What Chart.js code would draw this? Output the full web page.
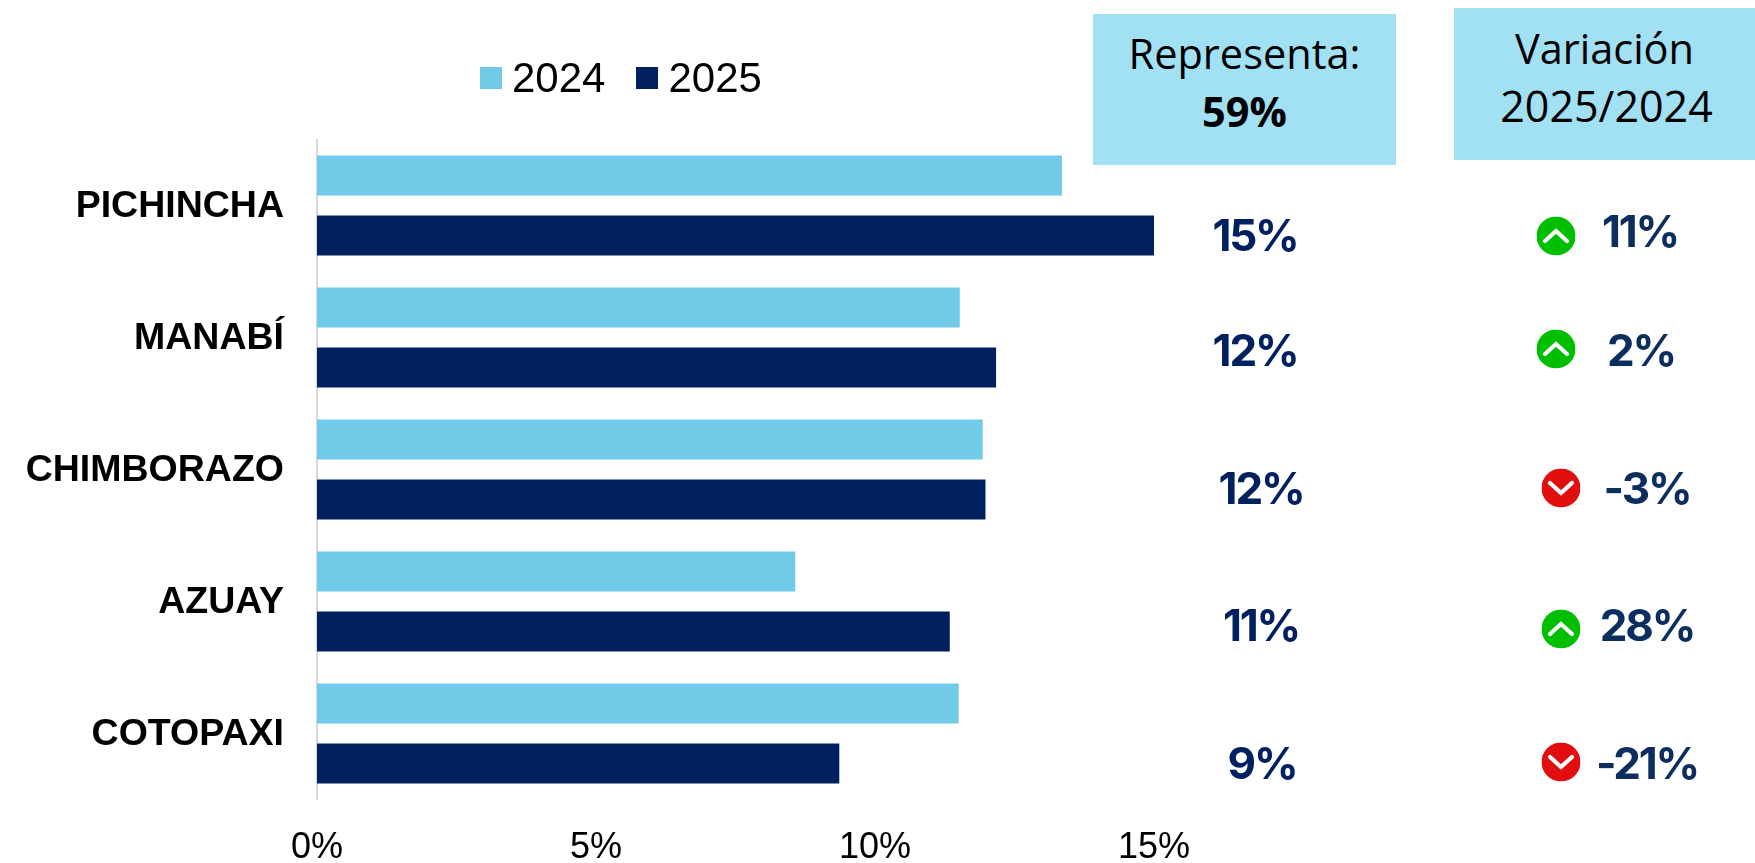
<!DOCTYPE html>
<html lang="es">

<head>
    <meta charset="UTF-8">
    <title>Provincias 2024 / 2025</title>
    <script src="https://cdn.jsdelivr.net/npm/chart.js"></script>
    <style>
        html,
        body {
            margin: 0;
            padding: 0;
            background: #fff;
            overflow: hidden;
        }

        #wrap {
            position: relative;
            width: 1755px;
            height: 863px;
        }

        #wrap canvas {
            position: absolute;
            left: 0;
            top: 0;
        }

        .legend {
            position: absolute;
            top: 52px;
            left: 480px;
            display: flex;
            align-items: center;
            height: 52px;
            font: 42px 'Liberation Sans', sans-serif;
            color: #000;
        }

        .legend i {
            display: block;
            width: 22px;
            height: 22px;
            margin-right: 10px;
        }

        .legend span {
            margin-right: 31px;
        }

        .box {
            position: absolute;
            background: #a2e0f4;
            text-align: center;
            font: 41.5px/58px 'Open Sans', sans-serif;
            color: #000;
        }

        .num {
            position: absolute;
            transform: translate(-50%, -50%);
            font: 700 44px 'Inter', sans-serif;
            letter-spacing: -2.2px;
            white-space: nowrap;
        }

        .share {
            color: #002060;
        }

        .vari {
            color: #0b2e5f;
        }

        .icon {
            position: absolute;
            width: 39px;
            height: 39px;
            transform: translate(-50%, -50%);
        }
    </style>
</head>

<body>
    <div id="wrap">
        <canvas id="grafico" width="1755" height="863"></canvas>
        <div class="legend" id="leyenda"></div>
        <div class="box" style="left:1093px;top:14px;width:303px;height:151px">
            <div style="margin-top:10px">Representa:</div>
            <div><b>59%</b></div>
        </div>
        <div class="box" style="left:1454px;top:8px;width:301px;height:152px">
            <div style="margin-top:11px">Variación</div>
            <div style="font-size:43px;margin-left:4px">2025/2024</div>
        </div>
    </div>
    <script>
        const provincias = ['PICHINCHA', 'MANABÍ', 'CHIMBORAZO', 'AZUAY', 'COTOPAXI'];
        const series2024 = [13.35, 11.52, 11.93, 8.57, 11.5];
        const series2025 = [15.04, 12.17, 11.98, 11.34, 9.36];
        const ticksX = [0, 5, 10, 15];
        const participacion = ['15%', '12%', '12%', '11%', '9%'];
        const variacion = ['11%', '2%', '-3%', '28%', '-21%'];
        const tendencia = ['up', 'up', 'down', 'up', 'down'];

        // the side columns are not evenly spaced in the original, so they are placed by hand
        const shareX = [1255, 1255, 1261, 1261, 1262];
        const shareY = [235, 350, 488, 625, 763];
        const variX = [1640, 1641, 1647, 1647, 1647];
        const variY = [231, 350, 488, 625, 763];
        const iconX = [1556, 1556, 1561, 1561, 1561];
        const iconY = [236, 349, 488, 629, 762];

        const chart = new Chart(document.getElementById('grafico'), {
            type: 'bar',
            data: {
                labels: provincias,
                datasets: [
                    { label: '2024', data: series2024, backgroundColor: '#71cae7' },
                    { label: '2025', data: series2025, backgroundColor: '#002060' }
                ]
            },
            options: {
                indexAxis: 'y',
                responsive: false,
                animation: false,
                categoryPercentage: 0.909,
                barPercentage: 0.667,
                layout: { padding: { top: 139.5, right: 601, left: 0, bottom: 0 } },
                plugins: { legend: { display: false }, tooltip: { enabled: false } },
                scales: {
                    x: {
                        min: 0,
                        max: 15,
                        afterFit: (scale) => { scale.height = 63.5; },
                        afterBuildTicks: (scale) => { scale.ticks = ticksX.map((v) => ({ value: v })); },
                        grid: { display: false },
                        border: { display: false },
                        ticks: {
                            color: '#000',
                            padding: 19,
                            maxRotation: 0,
                            font: { family: 'Liberation Sans', size: 36 },
                            callback: (v) => v + '%'
                        }
                    },
                    y: {
                        afterFit: (scale) => { scale.width = 317; },
                        grid: { display: false },
                        border: { display: true, color: '#d9d9d9', width: 2 },
                        ticks: {
                            color: '#000',
                            padding: 25,
                            labelOffset: 1,
                            font: { family: 'Liberation Sans', size: 37.5, weight: 'bold' }
                        }
                    }
                }
            }
        });

        const wrap = document.getElementById('wrap');
        const leyenda = document.getElementById('leyenda');
        chart.data.datasets.forEach((ds) => {
            leyenda.insertAdjacentHTML('beforeend', `<i style="background:${ds.backgroundColor}"></i><span>${ds.label}</span>`);
        });

        function chevron(dir) {
            const fill = dir === 'up' ? '#00bf00' : '#e00e0e';
            const path = dir === 'up' ? 'M8.5 24.5 L19.5 14.5 L30.5 24.5' : 'M8.5 14.5 L19.5 24.5 L30.5 14.5';
            return `<svg viewBox="0 0 39 39" width="39" height="39"><circle cx="19.5" cy="19.5" r="19.5" fill="${fill}"/>` +
                `<path d="${path}" fill="none" stroke="#fff" stroke-width="4.2" stroke-linecap="round" stroke-linejoin="miter"/></svg>`;
        }

        provincias.forEach((p, i) => {
            wrap.insertAdjacentHTML('beforeend', `<div class="num share" style="left:${shareX[i]}px;top:${shareY[i]}px">${participacion[i]}</div>`);
            wrap.insertAdjacentHTML('beforeend', `<div class="num vari" style="left:${variX[i]}px;top:${variY[i]}px">${variacion[i]}</div>`);
            wrap.insertAdjacentHTML('beforeend', `<div class="icon" style="left:${iconX[i]}px;top:${iconY[i]}px">${chevron(tendencia[i])}</div>`);
        });
    </script>
</body>

</html>
